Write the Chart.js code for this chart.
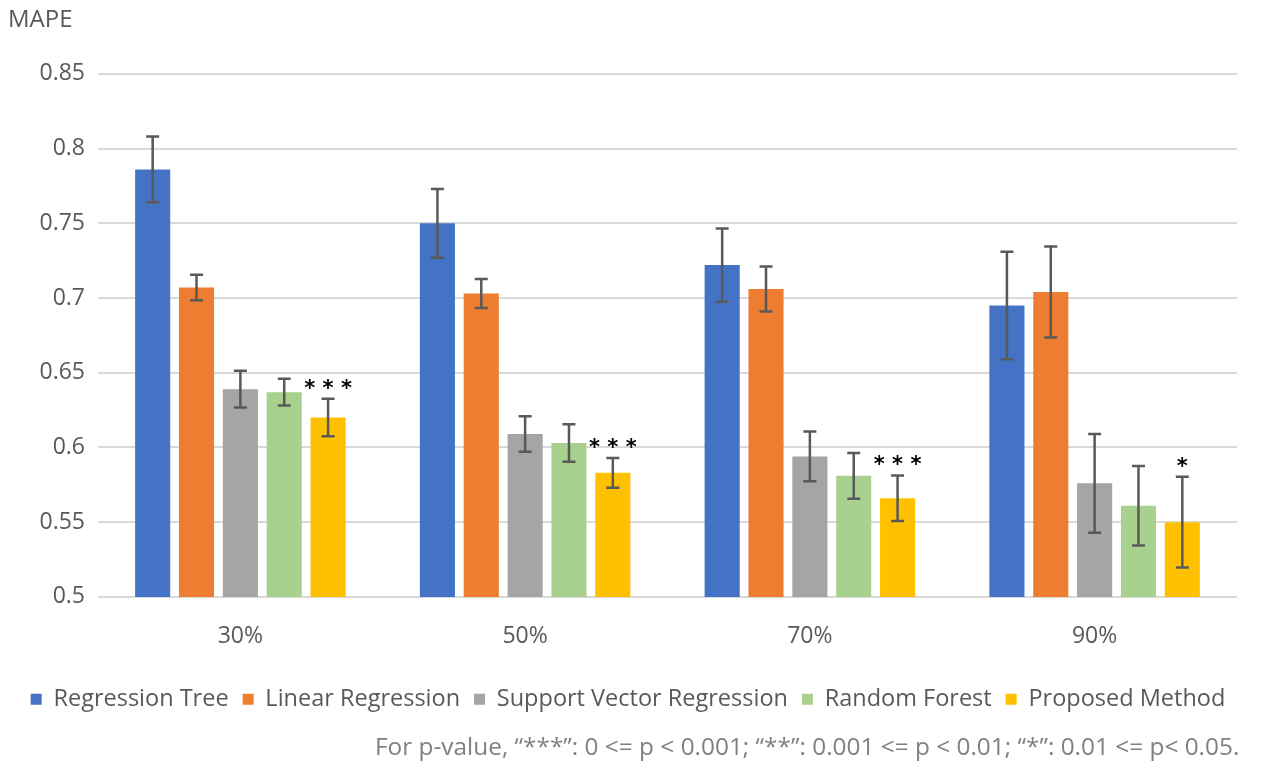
<!DOCTYPE html>
<html>
<head>
<meta charset="utf-8">
<title>MAPE by training ratio</title>
<script src="https://cdn.jsdelivr.net/npm/chart.js@4/dist/chart.umd.min.js"></script>
<style>
  html, body { margin: 0; padding: 0; background: #fff; }
  #wrap { position: relative; width: 1268px; height: 768px; }
  #note {
    position: absolute; left: 375px; top: 729px;
    font: 24.4px 'Open Sans', sans-serif; color: #808080; white-space: nowrap;
  }
</style>
</head>
<body>
<div id="wrap">
  <canvas id="chart" width="1268" height="768"></canvas>
  <div id="note">For p-value, “***”: 0 &lt;= p &lt; 0.001; “**”: 0.001 &lt;= p &lt; 0.01; “*”: 0.01 &lt;= p&lt; 0.05.</div>
</div>
<script>
'use strict';

// ── Data ──
const categories = ['30%', '50%', '70%', '90%'];
const methods = ['Regression Tree', 'Linear Regression', 'Support Vector Regression', 'Random Forest', 'Proposed Method'];

const treeVals   = [0.786, 0.750, 0.722, 0.695];
const linearVals = [0.707, 0.703, 0.706, 0.704];
const svrVals    = [0.639, 0.609, 0.594, 0.576];
const forestVals = [0.637, 0.603, 0.581, 0.561];
const propVals   = [0.620, 0.583, 0.566, 0.550];

const treeErr   = [0.022, 0.023, 0.0245, 0.036];
const linearErr = [0.0085, 0.0097, 0.015, 0.0305];
const svrErr    = [0.0123, 0.0118, 0.0166, 0.033];
const forestErr = [0.009, 0.0125, 0.0153, 0.0266];
const propErr   = [0.0125, 0.010, 0.0152, 0.0304];

const propSig = ['***', '***', '***', '*'];

const yTicks = [0.5, 0.55, 0.6, 0.65, 0.7, 0.75, 0.8, 0.85];

const COLORS = ['#4472C4', '#ED7D31', '#A5A5A5', '#A9D18E', '#FFC000'];
const TEXT = '#595959';
const FONT = "'Open Sans', sans-serif";

const values = [treeVals, linearVals, svrVals, forestVals, propVals];
const errors = [treeErr, linearErr, svrErr, forestErr, propErr];
const sigs = [null, null, null, null, propSig];

// ── Error bars + significance marks ──
const errorBarPlugin = {
  id: 'errorBars',
  afterDatasetsDraw(chart) {
    const ctx = chart.ctx;
    const y = chart.scales.y;
    ctx.save();
    chart.data.datasets.forEach((ds, di) => {
      const meta = chart.getDatasetMeta(di);
      meta.data.forEach((bar, i) => {
        const v = ds.data[i];
        const e = ds.errors[i];
        const top = y.getPixelForValue(v + e);
        const bot = y.getPixelForValue(v - e);
        ctx.strokeStyle = '#595959';
        ctx.lineWidth = 2.5;
        ctx.beginPath();
        ctx.moveTo(bar.x, top); ctx.lineTo(bar.x, bot);
        ctx.moveTo(bar.x - 6.5, top); ctx.lineTo(bar.x + 6.5, top);
        ctx.moveTo(bar.x - 6.5, bot); ctx.lineTo(bar.x + 6.5, bot);
        ctx.stroke();
        if (ds.sig && ds.sig[i]) {
          ctx.fillStyle = '#000';
          ctx.font = 'bold 21px "DejaVu Sans", sans-serif';
          ctx.textAlign = 'center';
          ctx.textBaseline = 'bottom';
          ctx.fillText(ds.sig[i].split('').join(' '), bar.x, top + 1);
        }
      });
    });
    ctx.restore();
  }
};

new Chart(document.getElementById('chart'), {
  type: 'bar',
  data: {
    labels: categories,
    datasets: methods.map((m, k) => ({
      label: m,
      data: values[k],
      errors: errors[k],
      sig: sigs[k],
      backgroundColor: COLORS[k],
      borderWidth: 0,
      categoryPercentage: 0.77,
      barPercentage: 0.8,
    })),
  },
  options: {
    responsive: false,
    animation: false,
    layout: { padding: { left: 8, right: 20, top: 6, bottom: 47 } },
    plugins: {
      title: {
        display: true, text: 'MAPE', align: 'start', color: TEXT,
        font: { family: FONT, size: 24, weight: 'normal' },
        padding: { top: 0, bottom: 39 },
      },
      legend: {
        position: 'bottom',
        labels: {
          color: TEXT, boxWidth: 11, boxHeight: 11, padding: 14,
          font: { family: FONT, size: 23.5 },
        },
      },
      tooltip: { enabled: false },
    },
    scales: {
      x: {
        grid: { display: false },
        border: { display: false },
        afterFit: (s) => { s.height += 5; },
        ticks: { color: TEXT, font: { family: FONT, size: 23 }, padding: 18 },
      },
      y: {
        min: 0.5, max: 0.85,
        afterBuildTicks: (s) => { s.ticks = yTicks.map(v => ({ value: v })); },
        afterFit: (s) => { s.width = 90; },
        grid: { color: '#D9D9D9', lineWidth: 2, drawTicks: false },
        border: { display: false },
        ticks: {
          color: TEXT, padding: 13,
          font: { family: FONT, size: 23 },
          callback: (v) => String(Number(v.toFixed(2))),
        },
      },
      // empty right axis, only reserves the right margin of the plot
      yRight: {
        position: 'right',
        min: 0.5, max: 0.85,
        grid: { display: false, drawTicks: false },
        border: { display: false },
        ticks: { display: false },
        afterFit: (s) => { s.width = 11; },
      },
    },
  },
  plugins: [errorBarPlugin],
});
</script>
</body>
</html>
